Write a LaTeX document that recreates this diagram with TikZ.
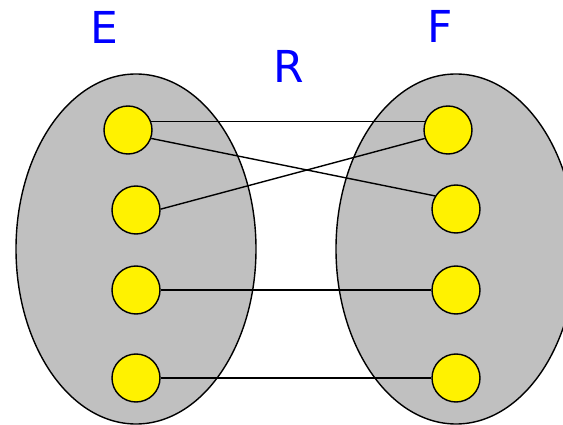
\documentclass[tikz,border=0pt]{standalone}
\usepackage{fontspec}
\setmainfont{DejaVu Sans}
\begin{document}
\begin{tikzpicture}[x=1pt,y=-1pt,
  setshape/.style={draw=black,line width=1.4pt,fill={rgb,255:red,192;green,192;blue,192}},
  elem/.style={circle,draw=black,line width=1.4pt,fill=yellow,minimum size=48pt,inner sep=0pt},
  link/.style={draw=black,line width=1.4pt},
  lbl/.style={text=blue,inner sep=0pt,font=\fontsize{44}{50}\selectfont}]
\useasboundingbox (0,0) rectangle (563,425);
\begin{scope}
\clip (0,0) rectangle (563,425);
\path[setshape] (136,249) ellipse [x radius=120, y radius=175];
\path[setshape] (456,249) ellipse [x radius=120, y radius=175];
\end{scope}
\node[elem] (l1) at (128,130) {};
\node[elem] (l2) at (136,210) {};
\node[elem] (l3) at (136,290) {};
\node[elem] (l4) at (136,378) {};
\node[elem] (r1) at (448,130) {};
\node[elem] (r2) at (456,209) {};
\node[elem] (r3) at (456,290) {};
\node[elem] (r4) at (456,378) {};
\draw[link] (l1.20) -- (r1.160);
\draw[link] (l1.-20) -- (r2.148);
\draw[link] (l2.2) -- (r1.200);
\draw[link] (l3) -- (r3);
\draw[link] (l4) -- (r4);
\node[lbl] (e) at (104,27) {E};
\node[lbl] (r) at (289,66) {R};
\node[lbl] (f) at (440,26) {F};
\end{tikzpicture}
\end{document}
